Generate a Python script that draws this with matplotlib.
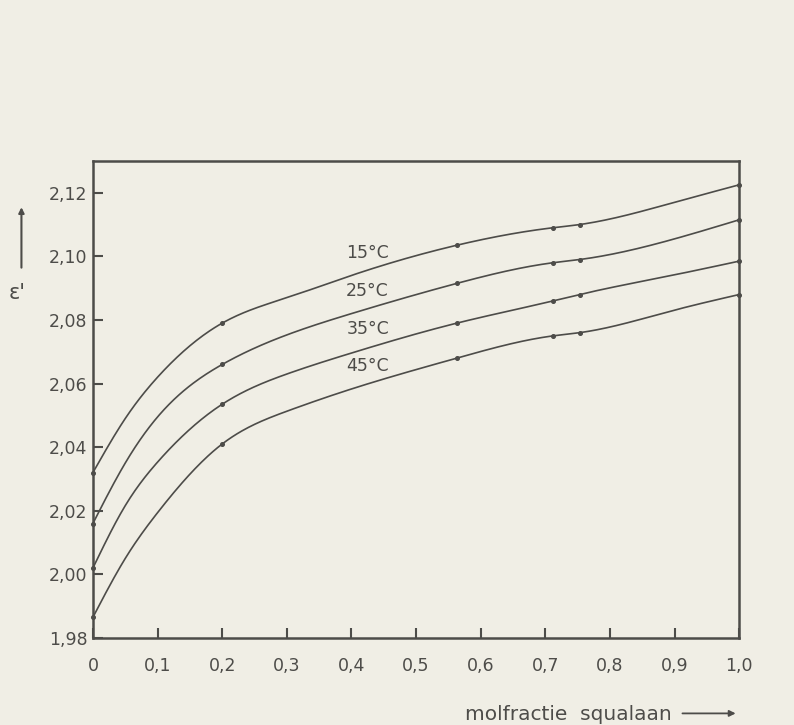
import numpy as np
import matplotlib
matplotlib.use("Agg")
import matplotlib.pyplot as plt

# measured points (markers)
x_meas = [0.0, 0.2, 0.563, 0.712, 0.753, 1.0]
eps_15 = [2.032, 2.079, 2.1035, 2.109, 2.110, 2.1225]
eps_25 = [2.016, 2.066, 2.0915, 2.098, 2.099, 2.1115]
eps_35 = [2.002, 2.0535, 2.079, 2.086, 2.088, 2.0985]
eps_45 = [1.9865, 2.041, 2.068, 2.075, 2.076, 2.088]

# extra points (no markers)
x_curve = [0.05, 0.1, 0.3, 0.4, 0.9]
curve_15 = [2.049, 2.062, 2.087, 2.094, 2.117]
curve_25 = [2.035, 2.0495, 2.0753, 2.082, 2.1055]
curve_35 = [2.0216, 2.0353, 2.063, 2.0696, 2.0942]
curve_45 = [2.005, 2.0194, 2.0513, 2.0583, 2.0831]

labels = ["15°C", "25°C", "35°C", "45°C"]
label_x = 0.425
label_y = [2.1009, 2.0891, 2.0772, 2.0655]

x_ticks = [0, 0.1, 0.2, 0.3, 0.4, 0.5, 0.6, 0.7, 0.8, 0.9, 1.0]
x_ticklabels = ["0", "0,1", "0,2", "0,3", "0,4", "0,5", "0,6", "0,7", "0,8", "0,9", "1,0"]
y_ticks = [1.98, 2.00, 2.02, 2.04, 2.06, 2.08, 2.10, 2.12]
y_ticklabels = ["1,98", "2,00", "2,02", "2,04", "2,06", "2,08", "2,10", "2,12"]

ink = "#4d4c49"
paper = "#f0eee5"


def spline(x, y, xs):
    # natural cubic spline through the points, only for drawing the smooth line
    x = np.asarray(x, float)
    y = np.asarray(y, float)
    n = len(x)
    h = np.diff(x)
    A = np.zeros((n, n))
    r = np.zeros(n)
    A[0, 0] = A[-1, -1] = 1
    for i in range(1, n - 1):
        A[i, i - 1] = h[i - 1]
        A[i, i] = 2 * (h[i - 1] + h[i])
        A[i, i + 1] = h[i]
        r[i] = 6 * ((y[i + 1] - y[i]) / h[i] - (y[i] - y[i - 1]) / h[i - 1])
    M = np.linalg.solve(A, r)
    idx = np.clip(np.searchsorted(x, xs) - 1, 0, n - 2)
    a = x[idx + 1] - xs
    b = xs - x[idx]
    hi = h[idx]
    return (M[idx] * a**3 / (6 * hi) + M[idx + 1] * b**3 / (6 * hi)
            + (y[idx] / hi - M[idx] * hi / 6) * a
            + (y[idx + 1] / hi - M[idx + 1] * hi / 6) * b)


fig = plt.figure(figsize=(7.94, 7.25), dpi=100, facecolor=paper)
ax = fig.add_axes([0.117, 0.12, 0.814, 0.658])
ax.set_facecolor(paper)

xs = np.linspace(0, 1, 400)
series = [(eps_15, curve_15), (eps_25, curve_25), (eps_35, curve_35), (eps_45, curve_45)]
for (meas, curve), lab, ly in zip(series, labels, label_y):
    xx = np.array(x_meas + x_curve)
    yy = np.array(meas + curve)
    order = np.argsort(xx)
    ax.plot(xs, spline(xx[order], yy[order], xs), color=ink, lw=1.2, clip_on=False)
    ax.plot(x_meas, meas, "o", color=ink, ms=2.6, clip_on=False)
    ax.text(label_x, ly, lab, color=ink, fontsize=12.5, ha="center", va="center")

ax.set_xlim(0, 1.0)
ax.set_ylim(1.98, 2.13)
ax.set_xticks(x_ticks)
ax.set_xticklabels(x_ticklabels)
ax.set_yticks(y_ticks)
ax.set_yticklabels(y_ticklabels)
ax.tick_params(axis="x", direction="in", length=7, width=1.5, pad=14, colors=ink, labelsize=12.5)
ax.tick_params(axis="y", direction="in", length=7, width=1.5, pad=4, colors=ink, labelsize=12.5)
for s in ax.spines.values():
    s.set_color(ink)
    s.set_linewidth(1.8)

# axis labels with arrows
fig.text(0.021, 0.596, "ε'", color=ink, fontsize=15, ha="center", va="center")
fig.add_artist(matplotlib.patches.FancyArrowPatch(
    (0.027, 0.627), (0.027, 0.718), transform=fig.transFigure,
    arrowstyle="-|>", mutation_scale=8, color=ink, lw=1.5))
fig.text(0.716, 0.014, "molfractie  squalaan", color=ink, fontsize=14.5,
         ha="center", va="center")
fig.add_artist(matplotlib.patches.FancyArrowPatch(
    (0.856, 0.016), (0.930, 0.016), transform=fig.transFigure,
    arrowstyle="-|>", mutation_scale=9, color=ink, lw=1.3))

fig.savefig("out.png", dpi=100, facecolor=paper)
